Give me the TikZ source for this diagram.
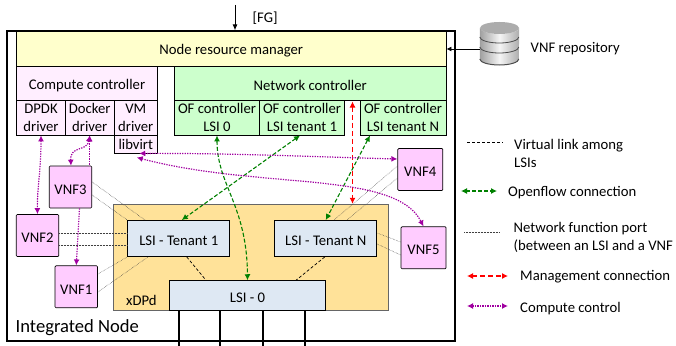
\documentclass[tikz,border=0pt]{standalone}
\usepackage{fontspec}
\setmainfont{Carlito}
\usetikzlibrary{arrows.meta,calc}
\definecolor{mgrcol}{HTML}{FFFFCC}
\definecolor{compcol}{HTML}{FFEEFF}
\definecolor{netcol}{HTML}{CCFFCC}
\definecolor{vnfcol}{HTML}{FFCCFF}
\definecolor{dpdcol}{HTML}{FFE299}
\definecolor{lsicol}{HTML}{DEE8F3}
\definecolor{ofgreen}{HTML}{008000}
\definecolor{cpurple}{HTML}{A000A0}
\tikzset{
    box/.style={draw, line width=0.9pt, inner sep=0pt, align=center, font=\fontsize{14.7}{18}\selectfont, execute at begin node={\rule{0pt}{14.5pt}}},
    vnf/.style={box, fill=vnfcol, rounded corners=1pt, line width=0.7pt, minimum width=42.5pt, minimum height=42pt},
    lsi/.style={box, fill=lsicol, minimum height=36pt, minimum width=102pt},
    label/.style={inner sep=0pt, anchor=west, align=left, font=\fontsize{14.7}{18}\selectfont},
    vlink/.style={densely dashed, line width=0.7pt},
    nfport/.style={densely dotted, line width=0.5pt, black!75},
    ofconn/.style={{Latex[length=6pt,width=6pt]}-{Latex[length=6pt,width=6pt]}, ofgreen, line width=1.1pt, dash pattern=on 4pt off 2pt},
    mgmt/.style={{Latex[length=6pt,width=6pt]}-{Latex[length=6pt,width=6pt]}, red, line width=1.1pt, dash pattern=on 5pt off 3pt},
    cctrl/.style={{Latex[length=6pt,width=6pt]}-{Latex[length=6pt,width=6pt]}, cpurple, line width=1.2pt, dash pattern=on 1.3pt off 1.2pt},
    nodelink/.style={line width=2pt}
}
\begin{document}
\begin{tikzpicture}[x=1pt,y=-1pt]
    \useasboundingbox (0,0) rectangle (676,345);

    % Integrated node frame
    \node[box, line width=1.1pt, minimum width=448pt, minimum height=310pt] (frame) at (231,186) {};
    \node[label, font=\fontsize{18.6}{18}\selectfont] (intnode) at (15.5,328) {Integrated Node};

    % Manager and controllers
    \node[box, fill=mgrcol, minimum width=429.5pt, minimum height=35pt] (manager) at (231.25,48.5) {Node resource manager};
    \node[box, fill=compcol, minimum width=141pt, minimum height=34pt] (compute) at (87,83) {Compute controller};
    \node[box, fill=compcol, minimum width=49pt, minimum height=35pt] (dpdk) at (41,117.5) {DPDK\\driver};
    \node[box, fill=compcol, minimum width=48.5pt, minimum height=35pt] (docker) at (89.75,117.5) {Docker\\driver};
    \node[box, fill=compcol, minimum width=43.5pt, minimum height=35pt] (vmdrv) at (135.75,117.5) {VM\\driver};
    \node[box, fill=compcol, minimum width=43.5pt, minimum height=18pt] (libvirt) at (135.75,144) {\raisebox{2pt}{libvirt}};

    \node[box, fill=netcol, minimum width=271.5pt, minimum height=34pt] (netctrl) at (310.25,83) {Network controller};
    \node[box, fill=netcol, minimum width=85pt, minimum height=35pt] (ofzero) at (217,117.5) {OF controller\\LSI 0};
    \node[box, fill=netcol, minimum width=85.5pt, minimum height=35pt] (ofone) at (302,117.5) {OF controller\\LSI tenant 1};
    \node[box, fill=netcol, minimum width=86pt, minimum height=35pt] (ofn) at (403,117.5) {OF controller\\LSI tenant N};

    % Switches
    \node[box, draw=black!60, fill=dpdcol, minimum width=275pt, minimum height=106.5pt] (xdpd) at (251,257.5) {};
    \node[label] (xdpdlabel) at (126,300) {xDPd};
    \node[lsi] (lsione) at (178.75,238.5) {LSI - Tenant 1};
    \node[lsi] (lsin) at (325.75,238.5) {LSI - Tenant N};
    \node[box, fill=lsicol, minimum width=156pt, minimum height=30pt] (lsizero) at (247.5,295.7) {LSI - 0};

    % VNFs
    \node[vnf] (vnfthree) at (70.5,187) {VNF3};
    \node[vnf] (vnftwo) at (37.5,235.5) {VNF2};
    \node[vnf] (vnfone) at (76.25,286.75) {VNF1};
    \node[vnf, minimum width=45pt] (vnffour) at (420.25,169.5) {VNF4};
    \node[vnf, minimum width=45pt] (vnffive) at (423.5,247.75) {VNF5};

    % Physical ports
    \foreach \xoff/\name in {-69/a, -27.5/b, 15.5/c, 57/d} {
        \coordinate (port\name) at ([xshift=\xoff pt,yshift=-34.5pt]lsizero.south);
        \draw[nodelink] ([xshift=\xoff pt]lsizero.south) -- (port\name);
    }

    % Virtual links
    \draw[vlink] ([xshift=8pt]lsione.south) -- ([xshift=-41.5pt]lsizero.north);
    \draw[vlink] ([xshift=-1pt]lsin.south) -- ([xshift=48.5pt]lsizero.north);

    % Network function ports
    \draw[nfport] ([yshift=5pt]vnfthree.east) -- ([xshift=-33.75pt]lsione.north);
    \draw[nfport] ([yshift=-8pt]vnfthree.east) -- (lsione.north west);
    \draw[nfport] ([yshift=2.5pt]vnftwo.east) -- ([yshift=5.5pt]lsione.west);
    \draw[nfport] ([yshift=-9.5pt]vnftwo.east) -- ([yshift=-6.5pt]lsione.west);
    \draw[nfport] ([yshift=12.75pt]vnfone.east) -- (lsione.south west);
    \draw[nfport] ([yshift=-5.25pt]vnfone.east) -- ([xshift=-30.75pt]lsione.south);
    \draw[nfport] ([yshift=3.5pt]vnffour.west) -- ([xshift=8.25pt]lsin.north);
    \draw[nfport] ([yshift=-8.5pt]vnffour.west) -- ([xshift=21.25pt]lsin.north);
    \draw[nfport] ([yshift=5.75pt]vnffive.west) -- ([yshift=5.5pt]lsin.east);
    \draw[nfport] ([yshift=-7.25pt]vnffive.west) -- ([yshift=-5.5pt]lsin.east);

    % Openflow connections
    \draw[ofconn] (ofzero.south) .. controls (217,185) and (247,205) .. (lsizero.north);
    \draw[ofconn] ([xshift=-2pt]ofone.south) -- ([xshift=3pt]lsione.north);
    \draw[ofconn] ([xshift=-33pt]ofn.south) -- (lsin.north);

    % Management connection
    \coordinate (mgmttop) at (352.5,101.5);
    \draw[mgmt] (mgmttop) -- (mgmttop |- xdpd.north);

    % Compute control
    \draw[cctrl] (dpdk.south) .. controls (41,170) and (37,190) .. (vnftwo.north);
    \draw[cctrl] (docker.south) .. controls (87,152) and (70,145) .. ([xshift=0.5pt]vnfthree.north);
    \draw[cctrl, {Latex[length=6pt,width=6pt]}-] (docker.south) -- (docker.south |- vnfthree.north);
    \draw[cctrl, -{Latex[length=6pt,width=6pt]}] ([xshift=9pt]vnfthree.south) -- (vnfone.north);
    \draw[cctrl] ([xshift=3.5pt]libvirt.south) .. controls (230,153) and (320,157) .. ([yshift=10.5pt]vnffour.west);
    \draw[cctrl] ([xshift=1pt,yshift=-4pt]libvirt.south) .. controls (260,190) and (395,170) .. (vnffive.north);

    % External connections
    \coordinate (fgtop) at (235,5);
    \draw[-{Latex[length=6pt,width=5pt]}, line width=1pt] (fgtop) -- (fgtop |- frame.north);
    \node[label] (fglabel) at (252.5,18.5) {[FG]};

    % VNF repository
    \node[inner sep=0pt, minimum width=39pt, minimum height=44pt] (repo) at (499.5,44) {};
    \shade[left color=gray!75, right color=gray!65, middle color=white!92!gray] (repo.west |- 0,28) -- (repo.west |- 0,59) arc[start angle=180, end angle=360, x radius=19.5pt, y radius=6pt] -- (repo.east |- 0,28) arc[start angle=0, end angle=-180, x radius=19.5pt, y radius=6pt] -- cycle;
    \fill[gray!65] (499.5,28) ellipse[x radius=19.5pt, y radius=6pt];
    \draw[black!70, line width=0.8pt] (repo.west |- 0,37) arc[start angle=180, end angle=360, x radius=19.5pt, y radius=6pt];
    \draw[black!70, line width=0.8pt] (repo.west |- 0,47) arc[start angle=180, end angle=360, x radius=19.5pt, y radius=6pt];
    \draw[black!70, line width=1pt] (repo.west |- 0,59) arc[start angle=180, end angle=360, x radius=19.5pt, y radius=6pt];
    \draw[-{Latex[length=5pt,width=5pt]}, line width=0.8pt] (repo.west |- 0,49) -- (manager.east |- 0,49);
    \node[label] (repolabel) at (530.5,48.5) {VNF repository};

    % Legend
    \coordinate (vlinkstart) at (467,142);
    \coordinate (vlinkend) at (503,142);
    \draw[vlink] (vlinkstart) -- (vlinkend);
    \node[label] (vlinklabel) at (514,153) {Virtual link among\\LSIs};
    \coordinate (ofstart) at (461,191);
    \coordinate (ofend) at (497,191);
    \draw[ofconn] (ofstart) -- (ofend);
    \node[label] (oflabel) at (508,192.5) {Openflow connection};
    \coordinate (portstart) at (464,232.5);
    \coordinate (portend) at (500,232.5);
    \draw[nfport] (portstart) -- (portend);
    \node[label] (portlabel) at (513.5,237) {Network function port\\(between an LSI and a VNF};
    \coordinate (mgmtstart) at (467,276);
    \coordinate (mgmtend) at (508,276);
    \draw[mgmt] (mgmtstart) -- (mgmtend);
    \node[label] (mgmtlabel) at (520,277) {Management connection};
    \coordinate (cstart) at (467,306);
    \coordinate (cend) at (508,306);
    \draw[cctrl] (cstart) -- (cend);
    \node[label] (clabel) at (520,308.5) {Compute control};
\end{tikzpicture}
\end{document}
